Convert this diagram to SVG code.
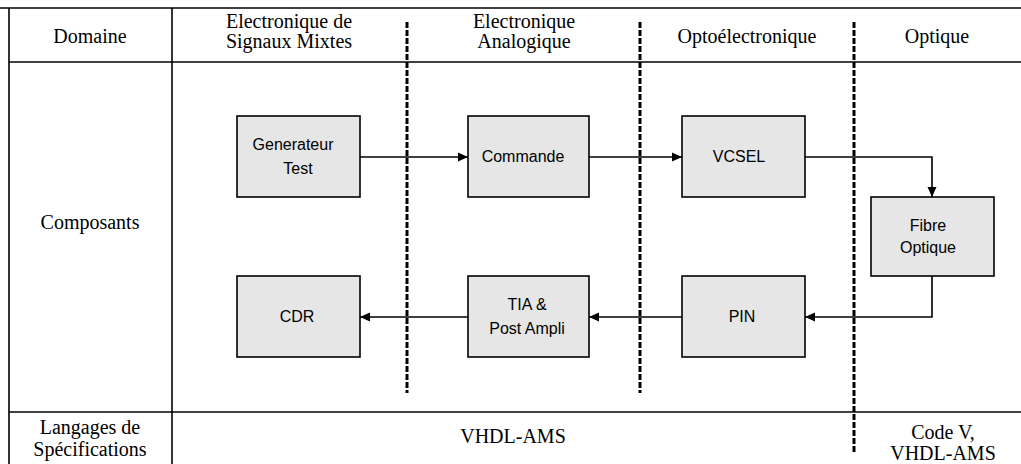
<svg xmlns="http://www.w3.org/2000/svg" width="1021" height="464" viewBox="0 0 1021 464">
<defs>
<style>
.tbl{stroke:#000;stroke-width:1.6;fill:none}
.dash{stroke:#000;stroke-width:3;stroke-dasharray:6 2;fill:none}
.hdr{font-family:"Liberation Serif","Times New Roman",serif;font-size:20px;fill:#000;text-anchor:middle}
.box{fill:#e6e6e6;stroke:#000;stroke-width:1.6}
.lbl{font-family:"Liberation Sans",Arial,sans-serif;font-size:16px;fill:#000;text-anchor:middle}
.conn{stroke:#000;stroke-width:1.6;fill:none;marker-end:url(#arr)}
</style>
<marker id="arr" viewBox="0 0 10 10" refX="10" refY="5" markerWidth="10" markerHeight="10" markerUnits="userSpaceOnUse" orient="auto">
<path d="M0,0.5 L10,5 L0,9.5 Z" fill="#000"/>
</marker>
</defs>
<g id="table">
<line class="tbl" x1="0" y1="8" x2="1021" y2="8"/>
<line class="tbl" x1="9" y1="62" x2="1021" y2="62"/>
<line class="tbl" x1="9" y1="412" x2="1021" y2="412"/>
<line class="tbl" x1="9" y1="8" x2="9" y2="464"/>
<line class="tbl" x1="172" y1="8" x2="172" y2="464"/>
<line class="dash" x1="407" y1="22" x2="407" y2="393"/>
<line class="dash" x1="640" y1="22" x2="640" y2="393"/>
<line class="dash" x1="854" y1="22" x2="854" y2="452"/>
<text class="hdr" x="90" y="43">Domaine</text>
<text class="hdr" x="289" y="28">Electronique de</text>
<text class="hdr" x="289" y="48">Signaux Mixtes</text>
<text class="hdr" x="524" y="28">Electronique</text>
<text class="hdr" x="524" y="48">Analogique</text>
<text class="hdr" x="747" y="43">Optoélectronique</text>
<text class="hdr" x="937" y="43">Optique</text>
<text class="hdr" x="90" y="229">Composants</text>
<text class="hdr" x="90" y="434">Langages de</text>
<text class="hdr" x="90" y="456">Spécifications</text>
<text class="hdr" x="513" y="443">VHDL-AMS</text>
<text class="hdr" x="943" y="439">Code V,</text>
<text class="hdr" x="943" y="460">VHDL-AMS</text>
</g>
<g id="connectors">
<line class="conn" x1="360" y1="157" x2="468" y2="157"/>
<line class="conn" x1="589" y1="157" x2="682" y2="157"/>
<polyline class="conn" points="805,157 932,157 932,197"/>
<polyline class="conn" points="932,276 932,317 805,317"/>
<line class="conn" x1="682" y1="317" x2="589" y2="317"/>
<line class="conn" x1="468" y1="317" x2="360" y2="317"/>
</g>
<g id="gen"><rect class="box" x="237" y="116" width="123" height="81"/><text class="lbl" x="293" y="150">Generateur</text><text class="lbl" x="298" y="174">Test</text></g>
<g id="commande"><rect class="box" x="468" y="116" width="121" height="81"/><text class="lbl" x="523" y="162">Commande</text></g>
<g id="vcsel"><rect class="box" x="682" y="116" width="123" height="81"/><text class="lbl" x="739" y="162">VCSEL</text></g>
<g id="fibre"><rect class="box" x="871" y="197" width="123" height="79"/><text class="lbl" x="928" y="231">Fibre</text><text class="lbl" x="928" y="253">Optique</text></g>
<g id="cdr"><rect class="box" x="237" y="276" width="123" height="81"/><text class="lbl" x="297" y="322">CDR</text></g>
<g id="tia"><rect class="box" x="468" y="276" width="121" height="81"/><text class="lbl" x="527" y="310">TIA &amp;</text><text class="lbl" x="527" y="334">Post Ampli</text></g>
<g id="pin"><rect class="box" x="682" y="276" width="123" height="81"/><text class="lbl" x="742" y="322">PIN</text></g>
</svg>
